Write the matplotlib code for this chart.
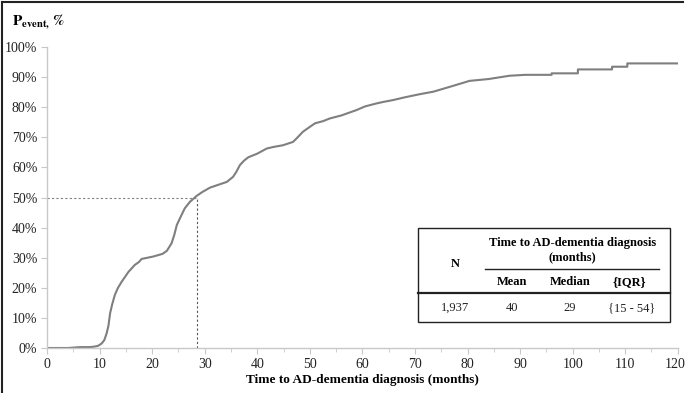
import matplotlib
matplotlib.use("Agg")
import matplotlib.pyplot as plt
import matplotlib.transforms as mtransforms
from matplotlib.lines import Line2D
from matplotlib.patches import Rectangle

plt.rcParams['font.family'] = ['Liberation Serif', 'DejaVu Serif']
plt.rcParams['mathtext.fontset'] = 'stix'

# Curva de incidência acumulada
months = [0, 4, 6.3, 8, 8.8, 9.7, 10.4, 10.9, 11.35, 11.7, 12.0, 12.4, 12.9, 13.5, 14.2,
          15.5, 16.7, 17.5, 18.0, 20.2, 22.0, 22.8, 23.7, 24.2, 24.7, 25.4, 26.2, 27.2,
          28.5, 29.5, 31.0, 32.5, 34.2, 35.4, 36.0, 36.7, 37.5, 38.3, 40.0, 41.8, 43.0,
          44.9, 46.8, 47.5, 48.7, 50.0, 51.0, 52.5, 53.8, 56.0, 58.9, 60.5, 62.7, 64.0,
          65.8, 68.0, 71.0, 73.5, 76.6, 78.5, 80.4, 84.0, 88.0, 91.0, 96.0, 96.0, 101.0,
          101.0, 107.5, 107.5, 110.4, 110.4, 120.0]
p_event = [0, 0, 0.3, 0.3, 0.4, 0.7, 1.5, 2.6, 4.9, 7.5, 11.5, 14.5, 17.6, 20.0, 22.0,
           25.3, 27.6, 28.6, 29.6, 30.4, 31.3, 32.3, 34.8, 37.5, 40.9, 43.5, 46.4, 48.6,
           50.6, 51.8, 53.3, 54.2, 55.2, 56.9, 58.5, 60.8, 62.3, 63.4, 64.6, 66.3, 66.8,
           67.4, 68.5, 69.7, 71.9, 73.5, 74.7, 75.4, 76.3, 77.3, 79.1, 80.3, 81.3, 81.8,
           82.4, 83.3, 84.4, 85.2, 86.8, 87.8, 88.8, 89.4, 90.5, 90.8, 90.8, 91.3, 91.3,
           92.6, 92.6, 93.5, 93.5, 94.6, 94.6]

median_time = 28.5

# Tabela
header = "Time to AD-dementia diagnosis"
header2 = "(months)"
col_labels = ["Mean", "Median", "{IQR}"]
row_values = ["1,937", "40", "29", "{15 - 54}"]

fig = plt.figure(figsize=(6.86, 3.93), dpi=100)
ax = fig.add_axes([0.0685, 0.1145, 0.9195, 0.7655])

ax.plot(months, p_event, color='#7f7f7f', linewidth=1.5)
ax.plot([0, median_time], [50, 50], color='#808080', linewidth=0.8, linestyle=(0, (2, 2)))
ax.plot([median_time, median_time], [0, 50], color='#555555', linewidth=0.8, linestyle=(0, (2, 2)))

ax.set_xlim(0, 120)
ax.set_ylim(0, 100)
ax.set_xticks(range(0, 121, 10))
ax.set_xticks(range(5, 120, 10), minor=True)
ax.set_yticks(range(0, 101, 10))
ax.set_yticklabels([f"{v}%" for v in range(0, 101, 10)])

for s in ['top', 'right']:
    ax.spines[s].set_visible(False)
for s in ['left', 'bottom']:
    ax.spines[s].set_color('#c8c8c8')
    ax.spines[s].set_linewidth(1.0)
ax.tick_params(which='both', direction='out', color='#c8c8c8', labelsize=10, labelcolor='#222222')
ax.tick_params(which='major', length=4)
ax.tick_params(which='minor', length=3)
ax.tick_params(axis='x', pad=3)
ax.tick_params(axis='y', pad=3)

# o "120" fica encostado à borda: puxa um pouco para dentro
last = ax.get_xticklabels()[-1]
last.set_transform(last.get_transform() + mtransforms.ScaledTranslation(-3 / 100, 0, fig.dpi_scale_trans))

ax.set_xlabel("Time to AD-dementia diagnosis (months)", fontsize=9.5, fontweight='bold', labelpad=2)

fig.text(0.017, 0.945, r'$\mathbf{P_{event,}}\,\mathbf{\%}$', fontsize=11, ha='left', va='center')

# caixa da tabela
tr = ax.transAxes
ax.add_patch(Rectangle((0.588, 0.086), 0.399, 0.313, transform=tr, fill=False,
                       edgecolor='#222222', linewidth=1.0, clip_on=False, zorder=5))
ax.add_line(Line2D([0.694, 0.971], [0.262, 0.262], transform=tr, color='#222222', linewidth=1.0))
ax.add_line(Line2D([0.588, 0.987], [0.183, 0.183], transform=tr, color='#222222', linewidth=1.6))

fs = 9
ax.text(0.647, 0.279, "N", transform=tr, fontsize=fs, fontweight='bold', ha='center', va='center')
ax.text(0.833, 0.349, header, transform=tr, fontsize=fs, fontweight='bold', ha='center', va='center')
ax.text(0.833, 0.302, header2, transform=tr, fontsize=fs, fontweight='bold', ha='center', va='center')
for x, lab in zip([0.737, 0.829, 0.924], col_labels):
    ax.text(x, 0.219, lab, transform=tr, fontsize=fs, fontweight='bold', ha='center', va='center')
for x, val in zip([0.647, 0.737, 0.829, 0.927], row_values):
    ax.text(x, 0.133, val, transform=tr, fontsize=fs, ha='center', va='center', color='#222222')

# moldura da imagem original
fig.add_artist(Line2D([0.003, 0.003], [0, 0.996], transform=fig.transFigure, color='#222222', linewidth=1.5))
fig.add_artist(Line2D([0.003, 0.995], [0.996, 0.996], transform=fig.transFigure, color='#222222', linewidth=1.5))

fig.savefig("out.png", dpi=100)
